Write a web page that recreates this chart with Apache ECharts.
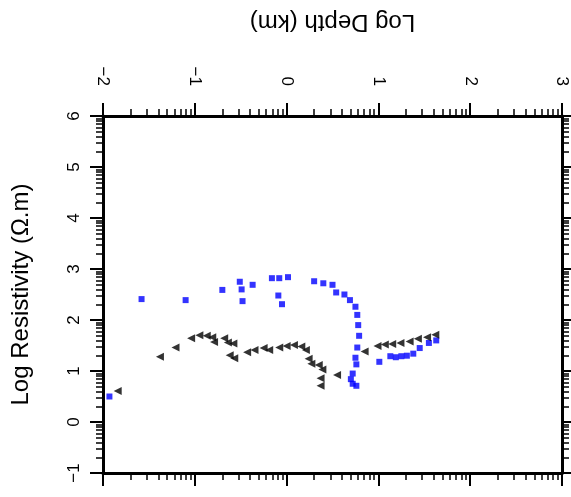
<!DOCTYPE html>
<html>
<head>
<meta charset="utf-8">
<script src="https://cdn.jsdelivr.net/npm/echarts@6/dist/echarts.min.js"></script>
<style>
html,body{margin:0;padding:0;background:#fff;}
#chart{width:571px;height:497px;}
</style>
</head>
<body>
<div id="chart"></div>
<script>
// Log Depth (km) values and Log Resistivity values
const blueDepth = [-1.93, -1.58, -1.10, -0.70, -0.51, -0.49, -0.48, -0.37, -0.16, -0.08, -0.09, -0.05, 0.015, 0.30, 0.40, 0.50, 0.54, 0.63, 0.69, 0.75, 0.77, 0.78, 0.79, 0.77, 0.75, 0.76, 0.72, 0.70, 0.72, 0.76, 1.01, 1.13, 1.19, 1.25, 1.31, 1.38, 1.45, 1.55, 1.63];
const blueRes   = [0.50, 2.41, 2.39, 2.59, 2.75, 2.60, 2.37, 2.69, 2.82, 2.82, 2.48, 2.31, 2.84, 2.76, 2.72, 2.69, 2.54, 2.50, 2.39, 2.26, 2.10, 1.90, 1.69, 1.46, 1.26, 1.13, 0.95, 0.84, 0.75, 0.71, 1.18, 1.29, 1.27, 1.29, 1.30, 1.34, 1.45, 1.55, 1.60];
const blackDepth = [-1.84, -1.38, -1.21, -1.04, -0.95, -0.87, -0.81, -0.79, -0.68, -0.64, -0.58, -0.62, -0.57, -0.43, -0.35, -0.25, -0.19, -0.08, 0.00, 0.08, 0.16, 0.21, 0.24, 0.27, 0.35, 0.39, 0.37, 0.37, 0.55, 0.85, 0.99, 1.07, 1.15, 1.24, 1.34, 1.43, 1.53, 1.62];
const blackRes   = [0.61, 1.28, 1.46, 1.64, 1.70, 1.69, 1.66, 1.57, 1.64, 1.56, 1.54, 1.31, 1.25, 1.37, 1.41, 1.45, 1.41, 1.46, 1.49, 1.51, 1.48, 1.41, 1.24, 1.14, 1.12, 1.03, 0.86, 0.71, 0.92, 1.38, 1.49, 1.52, 1.53, 1.55, 1.58, 1.63, 1.66, 1.71];

const depthTicks = [-2, -1, 0, 1, 2, 3];
const resTicks = [-1, 0, 1, 2, 3, 4, 5, 6];
const minorSteps = [2, 3, 4, 5, 6, 7, 8, 9];

function minors(ticks) {
  const out = [];
  for (let i = 0; i < ticks.length - 1; i++) {
    minorSteps.forEach(k => out.push(ticks[i] + Math.log10(k)));
  }
  return out;
}

const FONT = 'Liberation Sans';
const lineStyle = {color: '#000', width: 3};

function fmt(v) { return String(v).replace('-', '\u2212'); }
// top labels are end-aligned away from the axis: pad non-negative values with a figure space
function fmtTop(v) { return v < 0 ? fmt(v) : '\u2007' + fmt(v); }

function xAx(pos, major, labels) {
  const base = {
    type: 'value', position: pos, min: -2, max: 3, interval: 1,
    splitLine: {show: false},
    axisLine: {show: major, onZero: false, lineStyle: lineStyle},
    axisTick: major
      ? {show: true, length: 13, lineStyle: {color: '#000', width: 2}}
      : {show: true, length: 7, customValues: minors(depthTicks), lineStyle: {color: '#000', width: 1.5}},
    axisLabel: {show: false}
  };
  if (labels) {
    base.axisLabel = {show: true, rotate: 90, margin: 30, fontSize: 17,
      fontFamily: FONT, color: '#000', formatter: fmtTop};
    base.name = 'Log Depth (km)';
    base.nameLocation = 'middle';
    base.nameRotate = 180;
    base.nameGap = 82;
    base.nameTextStyle = {fontSize: 24, fontFamily: FONT, color: '#000'};
  }
  return base;
}

function yAx(pos, major, labels) {
  const base = {
    type: 'value', position: pos, min: -1, max: 6, interval: 1,
    splitLine: {show: false},
    axisLine: {show: major, onZero: false, lineStyle: lineStyle},
    axisTick: major
      ? {show: true, length: 13, lineStyle: {color: '#000', width: 2}}
      : {show: true, length: 7, customValues: minors(resTicks), lineStyle: {color: '#000', width: 1.5}},
    axisLabel: {show: false}
  };
  if (labels) {
    base.axisLabel = {show: true, rotate: 90, margin: 20, fontSize: 17,
      fontFamily: FONT, color: '#000', formatter: fmt};
    base.name = 'Log Resistivity (\u03A9.m)';
    base.nameLocation = 'middle';
    base.nameRotate = 90;
    base.nameGap = 70;
    base.nameTextStyle = {fontSize: 24, fontFamily: FONT, color: '#000'};
  }
  return base;
}

const chart = echarts.init(document.getElementById('chart'), null, {renderer: 'canvas'});
chart.setOption({
  animation: false,
  backgroundColor: '#fff',
  grid: {left: 103, top: 116, right: 9, bottom: 24, containLabel: false},
  xAxis: [xAx('top', true, true), xAx('top', false, false), xAx('bottom', true, false), xAx('bottom', false, false)],
  yAxis: [yAx('left', true, true), yAx('left', false, false), yAx('right', true, false), yAx('right', false, false)],
  series: [
    {
      type: 'scatter', xAxisIndex: 0, yAxisIndex: 0,
      symbol: 'rect', symbolSize: 6,
      itemStyle: {color: '#0000FF'},
      data: blueDepth.map((d, i) => [d, blueRes[i]])
    },
    {
      type: 'scatter', xAxisIndex: 0, yAxisIndex: 0,
      symbol: 'triangle', symbolSize: 8, symbolRotate: 90,
      itemStyle: {color: '#000'},
      data: blackDepth.map((d, i) => [d, blackRes[i]])
    }
  ]
});
</script>
</body>
</html>
